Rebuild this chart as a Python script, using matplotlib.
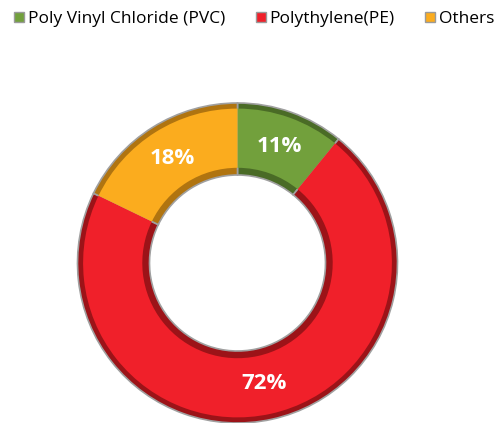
import matplotlib.pyplot as plt
from matplotlib.lines import Line2D

labels = ['Poly Vinyl Chloride (PVC)', 'Polythylene(PE)', 'Others']
values = [11, 72, 18]
colors = ['#72a03c', '#f0202a', '#fbac1e']
darks = ['#4a6b26', '#9c1318', '#b07410']

fig = plt.figure(figsize=(5.04, 4.23), dpi=100)
# axes placed so the ring sits where it does in the reference
cx, cy, r = 237.5, 263, 160
ax = fig.add_axes([(cx - r) / 504, (423 - cy - r) / 423, 2 * r / 504, 2 * r / 423])

# dark layer gives the bevel / shadow rim
ax.pie(values, colors=darks, startangle=90, counterclock=False, radius=1.0,
       wedgeprops=dict(width=0.45, edgecolor='#a0a0a0', linewidth=1.2))
# main colour layer, a bit inset
wedges, texts, autotexts = ax.pie(
    values, colors=colors, startangle=90, counterclock=False, radius=0.965,
    autopct=lambda p: '%d%%' % round(p * sum(values) / 100),
    pctdistance=0.80,
    wedgeprops=dict(width=0.37, edgecolor='none'),
    textprops=dict(color='white', fontsize=16, fontweight='bold',
                   family='Open Sans'))
ax.set_xlim(-1, 1)
ax.set_ylim(-1, 1)
ax.set_aspect('equal')
ax.axis('off')

handles = [Line2D([], [], marker='s', linestyle='none', markersize=7.5,
                  markerfacecolor=c, markeredgecolor='#9a9a9a', markeredgewidth=1)
           for c, d in zip(colors, darks)]
fig.legend(handles, labels, loc='upper left', bbox_to_anchor=(-0.005, 1.012),
           ncol=3, frameon=False, handlelength=0.7, handletextpad=0.15,
           columnspacing=1.7, prop=dict(family='Open Sans', size=12.5))

fig.savefig('out.png', dpi=100)
